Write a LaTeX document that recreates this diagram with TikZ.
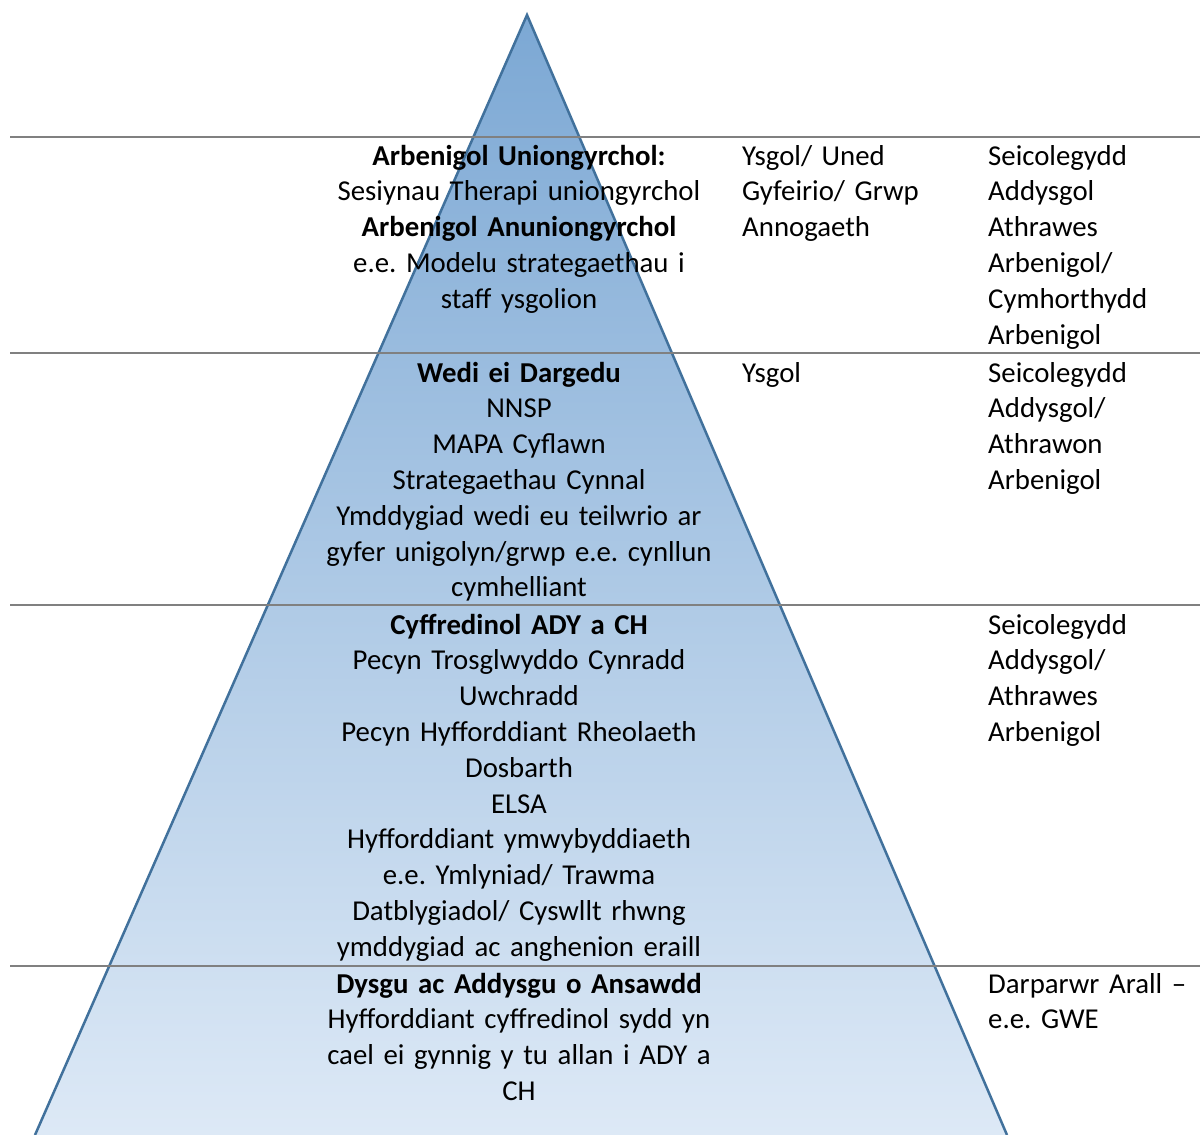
\documentclass[tikz,border=0pt]{standalone}
\usepackage{fontspec}
\setmainfont{Carlito}
\frenchspacing
\definecolor{pyrtop}{RGB}{124,168,212}
\definecolor{pyrbot}{RGB}{221,233,246}
\definecolor{pyredge}{RGB}{65,113,156}
\definecolor{rulegray}{RGB}{128,128,128}
\begin{document}
\begin{tikzpicture}[x=1bp,y=-1bp,
  txt/.style={inner sep=0pt, font=\fontsize{28.8bp}{35.8bp}\selectfont\frenchspacing, text=black},
  midcol/.style={txt, anchor=base, text width=440bp, align=center},
  sidecol/.style={txt, anchor=base west, text width=230bp, align=left},
  rowrule/.style={draw=rulegray, line width=2bp}]
\useasboundingbox (0,0) rectangle (1200,1135);
\begin{scope}
\clip (0,0) rectangle (1200,1135);
\shade[top color=pyrtop, bottom color=pyrbot] (527,15) -- (35,1135) -- (1007,1135) -- cycle;
\draw[pyredge, line width=2.5bp, line join=miter] (35,1135) -- (527,15) -- (1007,1135);
\end{scope}
% row rules
\coordinate (r1a) at (10,137);  \coordinate (r1b) at (1200,137);
\coordinate (r2a) at (10,353);  \coordinate (r2b) at (1200,353);
\coordinate (r3a) at (10,605);  \coordinate (r3b) at (1200,605);
\coordinate (r4a) at (10,966);  \coordinate (r4b) at (1200,966);
\draw[rowrule] (r1a) -- (r1b);
\draw[rowrule] (r2a) -- (r2b);
\draw[rowrule] (r3a) -- (r3b);
\draw[rowrule] (r4a) -- (r4b);
% row 1
\node[midcol] (m1) at (519,165) {\textbf{Arbenigol Uniongyrchol:}\\Sesiynau Therapi uniongyrchol\\\textbf{Arbenigol Anuniongyrchol}\\e.e. Modelu strategaethau i\\staff ysgolion};
\node[sidecol] (b1) at (742,165) {Ysgol/ Uned\\Gyfeirio/ Grwp\\Annogaeth};
\node[sidecol] (c1) at (988,165) {Seicolegydd\\Addysgol\\Athrawes\\Arbenigol/\\Cymhorthydd\\Arbenigol};
% row 2
\node[midcol] (m2) at (519,382) {\textbf{Wedi ei Dargedu}\\NNSP\\MAPA Cyflawn\\Strategaethau Cynnal\\Ymddygiad wedi eu teilwrio ar\\gyfer unigolyn/grwp e.e. cynllun\\cymhelliant};
\node[sidecol] (b2) at (742,382) {Ysgol};
\node[sidecol] (c2) at (988,382) {Seicolegydd\\Addysgol/\\Athrawon\\Arbenigol};
% row 3
\node[midcol] (m3) at (519,634) {\textbf{Cyffredinol ADY a CH}\\Pecyn Trosglwyddo Cynradd\\Uwchradd\\Pecyn Hyfforddiant Rheolaeth\\Dosbarth\\ELSA\\Hyfforddiant ymwybyddiaeth\\e.e. Ymlyniad/ Trawma\\Datblygiadol/ Cyswllt rhwng\\ymddygiad ac anghenion eraill};
\node[sidecol] (c3) at (988,634) {Seicolegydd\\Addysgol/\\Athrawes\\Arbenigol};
% row 4
\node[midcol] (m4) at (519,993) {\textbf{Dysgu ac Addysgu o Ansawdd}\\Hyfforddiant cyffredinol sydd yn\\cael ei gynnig y tu allan i ADY a\\CH};
\node[sidecol] (c4) at (988,993) {Darparwr Arall –\\e.e. GWE};
\end{tikzpicture}
\end{document}
